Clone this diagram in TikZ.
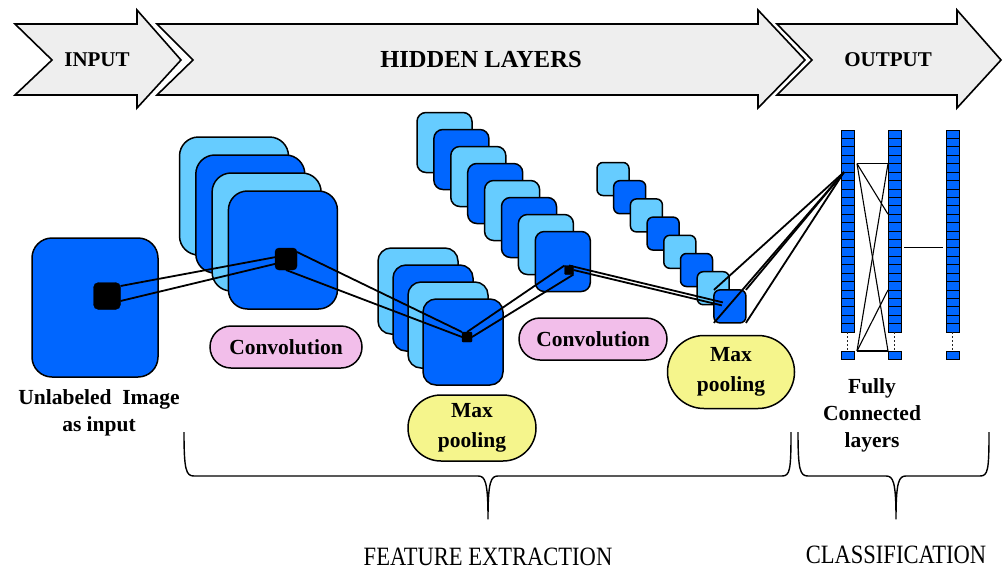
\documentclass[tikz,border=0pt]{standalone}
\usepackage{fontspec}
\setmainfont{Liberation Serif}
\usetikzlibrary{shapes.misc,calc}

\definecolor{deepblue}{RGB}{0,102,255}
\definecolor{skyblue}{RGB}{102,204,255}
\definecolor{bannergray}{RGB}{238,238,238}
\definecolor{pillpink}{RGB}{242,190,234}
\definecolor{pillyellow}{RGB}{245,245,140}

\newcommand\lblfont{\bfseries\fontsize{21.5}{27}\selectfont}
\newcommand\pillfont{\bfseries\fontsize{21.5}{29.5}\selectfont}
\newcommand\bannerfont{\bfseries\fontsize{21}{24}\selectfont}
\newcommand\bigbannerfont{\bfseries\fontsize{24.5}{28}\selectfont}
\newcommand\groupfont{\fontsize{23}{26}\selectfont}

\begin{document}
\begin{tikzpicture}[x=1pt,y=-1pt,
  banner/.style={draw, fill=bannergray, line width=1.6pt, line join=miter},
  fmap/.style={draw, line width=1.5pt, inner sep=0pt, outer sep=0pt},
  kern/.style={draw=black, fill=black, inner sep=0pt, outer sep=0pt},
  link/.style={line width=1.8pt},
  fclink/.style={line width=1.1pt},
  pill/.style={rounded rectangle, draw, line width=1.5pt, inner sep=0pt,
    align=center, font=\pillfont},
  label/.style={align=center, font=\lblfont},
  cell/.style={draw, fill=deepblue, line width=0.8pt, minimum width=13pt,
    minimum height=8.42pt, inner sep=0pt, outer sep=0pt},
  brace/.style={line width=1.4pt, line join=round}]
\useasboundingbox (0,0) rectangle (1003,571);

% stage banners
\draw[banner] (15,24) -- (137,24) -- (137,10) -- (181,60) -- (137,108)
  -- (137,95) -- (15,95) -- (52,60) -- cycle;
\draw[banner] (157,24) -- (758,24) -- (758,10) -- (805,60) -- (758,108)
  -- (758,95) -- (157,95) -- (193,60) -- cycle;
\draw[banner] (777,24) -- (957,24) -- (957,10) -- (1001,60) -- (957,108)
  -- (957,95) -- (777,95) -- (812,60) -- cycle;
\node[font=\bannerfont] (tin) at (97,60) {INPUT};
\node[font=\bigbannerfont] (thid) at (481,60) {HIDDEN LAYERS};
\node[font=\bannerfont] (tout) at (888,60) {OUTPUT};

% input image
\node[fmap, fill=deepblue, rounded corners=20pt, minimum width=126pt,
  minimum height=139pt] (img) at (95,307.5) {};

% first convolution maps
\foreach \i/\c in {0/skyblue,1/deepblue,2/skyblue,3/deepblue}
  \node[fmap, fill=\c, rounded corners=19pt, minimum width=109pt,
    minimum height=118pt] (cv1-\i) at (234+16.3*\i, 196+18*\i) {};

% second convolution maps
\foreach \i/\c in {0/skyblue,1/deepblue,2/skyblue,3/deepblue,
                   4/skyblue,5/deepblue,6/skyblue,7/deepblue}
  \node[fmap, fill=\c, rounded corners=9pt, minimum width=55pt,
    minimum height=60pt] (cv2-\i) at (444.5+16.9*\i, 142.5+17*\i) {};

% first pooled maps
\foreach \i/\c in {0/skyblue,1/deepblue,2/skyblue,3/deepblue}
  \node[fmap, fill=\c, rounded corners=13pt, minimum width=80pt,
    minimum height=86pt] (p1-\i) at (418+15*\i, 291+17*\i) {};

% second pooled maps
\foreach \i/\c in {0/skyblue,1/deepblue,2/skyblue,3/deepblue,
                   4/skyblue,5/deepblue,6/skyblue,7/deepblue}
  \node[fmap, fill=\c, rounded corners=6pt, minimum width=32pt,
    minimum height=33pt] (p2-\i) at (613+16.7*\i, 179+18.2*\i) {};

% receptive fields
\node[kern, rounded corners=5pt, minimum size=27pt] (k0) at (107,296) {};
\node[kern, rounded corners=4pt, minimum size=22pt] (k1) at (286,259) {};
\node[kern, rounded corners=1pt, minimum size=10pt] (k2) at (467,337) {};
\node[kern, rounded corners=1pt, minimum size=9pt] (k3) at (569,270) {};

% fully connected layers
\foreach \col/\x in {1/847.5,2/894.5,3/952.5} {
  \foreach \j in {0,...,23}
    \node[cell] (fc\col-\j) at (\x, 134.21+8.42*\j) {};
  \node[cell, minimum height=8pt] (fcb\col) at (\x,355) {};
  \draw[line width=0.9pt, dash pattern=on 2pt off 2pt, black!85]
    (fc\col-23.south) -- (fcb\col.north);
}

% connections between stages
\draw[link] ($(k0.east)+(0,-10)$) -- ($(k1.west)+(1,-2)$);
\draw[link] ($(k0.east)+(0,5)$) -- ($(k1.center)+(-3,3)$);
\draw[link] ($(k1.east)+(0,-7)$) -- (k2.north west);
\draw[link] (k1.south) -- (k2.west);
\draw[link] (k2.north) -- (k3.north west);
\draw[link] (k2.east) -- (k3.south east);
\draw[link] (k3.north) -- ($(p2-7.center)+(-7,-4)$);
\draw[link] (k3.east) -- ($(p2-7.center)+(-8,-1)$);
\coordinate (fcin) at ($(fc1-5.north west)+(3,0)$);
\foreach \a in {north west,north east,south east,south west}
  \draw[link] (p2-7.\a) -- (fcin);

\coordinate (A) at ($(fc1-4.north east)+(3,0)$);
\coordinate (B) at ($(fcb1.north east)+(3,0)$);
\draw[fclink] (A) -- (fc2-4.north west);
\draw[fclink] (A) -- (fc2-10.north west);
\draw[fclink] (A) -- (fcb2.north west);
\draw[fclink] (B) -- (fcb2.north west);
\draw[fclink] (B) -- (fc2-4.north west);
\draw[fclink] (B) -- (fc2-19.north west);
\draw[fclink] ($(fc2-14.north east)+(3,0)$) -- ($(fc3-14.north west)+(-3,0)$);

% operation labels
\node[pill, fill=pillpink, minimum width=152pt, minimum height=42pt]
  (conv1lbl) at (286,347) {Convolution};
\node[pill, fill=pillpink, minimum width=148pt, minimum height=42pt]
  (conv2lbl) at (593,339) {Convolution};
\node[pill, fill=pillyellow, minimum width=128pt, minimum height=66pt]
  (pool1lbl) at (472,428) {Max\\pooling};
\node[pill, fill=pillyellow, minimum width=127pt, minimum height=73pt]
  (pool2lbl) at (731,372) {Max\\pooling};

\node[label] (imglbl) at (99,413) {Unlabeled\ \ Image\\as input};
\node[label] (fclbl) at (872,415) {Fully\\Connected\\layers};

% grouping braces
\draw[brace] (184,432) .. controls (184,470) and (186,476) .. (194,476)
  -- (478,476) .. controls (485,476) and (488,481) .. (488,519)
  .. controls (488,481) and (491,476) .. (498,476)
  -- (782,476) .. controls (790,476) and (791,470) .. (791,432);
\draw[brace] (798,432) .. controls (798,470) and (800,476) .. (808,476)
  -- (886,476) .. controls (893,476) and (896,481) .. (896,519)
  .. controls (896,481) and (899,476) .. (906,476)
  -- (980,476) .. controls (988,476) and (989,470) .. (989,432);
\node[font=\groupfont] (fe) at (488,557) {\scalebox{0.98}[1.15]{FEATURE EXTRACTION}};
\node[font=\groupfont] (cls) at (896,555) {\scalebox{0.98}[1.15]{CLASSIFICATION}};
\end{tikzpicture}
\end{document}
